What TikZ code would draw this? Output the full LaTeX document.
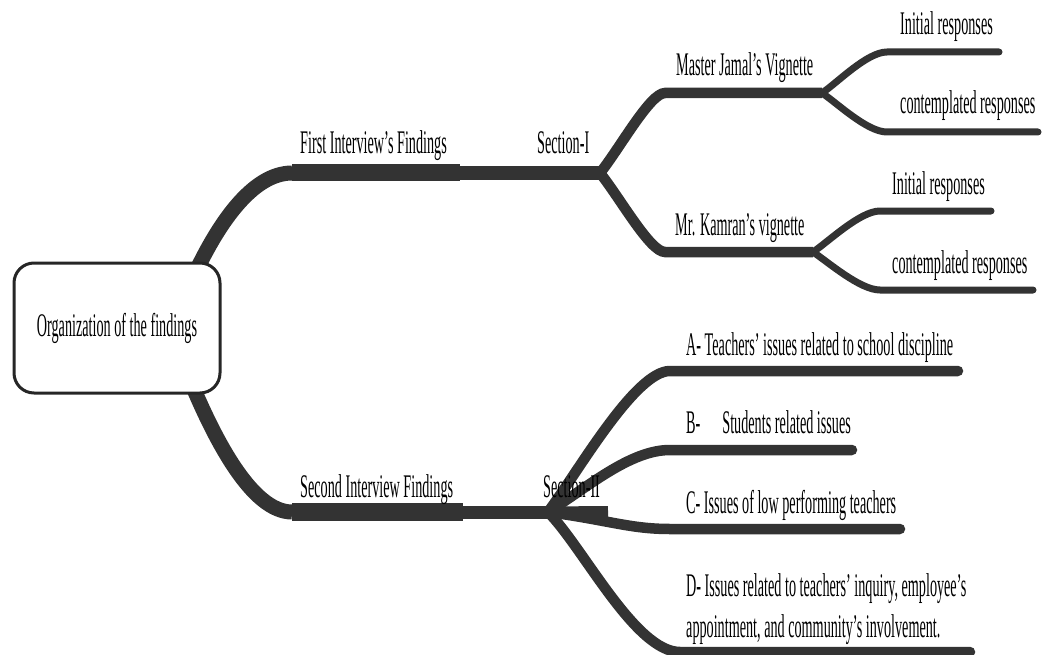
\documentclass[tikz,border=0pt]{standalone}
\usepackage{fontspec}
\newfontfamily\condfont[FakeStretch=0.43]{Liberation Serif}
\definecolor{branch}{HTML}{333333}

\begin{document}
\begin{tikzpicture}[x=1pt,y=-1pt,
  lbl/.style={anchor=base west,inner sep=0pt,font=\condfont\fontsize{33pt}{38pt}\selectfont},
  rootbox/.style={draw=black!85,line width=3pt,rounded corners=20pt,fill=white,minimum width=206pt,minimum height=130pt,inner sep=0pt,font=\condfont\fontsize{33pt}{38pt}\selectfont},
  limb/.style={draw=branch,line width=14pt},
  trunk/.style={draw=branch,line width=17pt},
  twig/.style={draw=branch,line width=10.5pt,line cap=round},
  leaf/.style={draw=branch,line width=7pt,line cap=round}]
  \useasboundingbox (0,0) rectangle (1043,655);
  % hub and forks
  \coordinate (hubU) at (192,280);
  \coordinate (hubD) at (190,380);
  \coordinate (fiS) at (292,173);
  \coordinate (fiE) at (460,173);
  \coordinate (s1) at (600,173);
  \coordinate (siS) at (292,512);
  \coordinate (siE) at (463,512);
  \coordinate (s2) at (548,512);
  \coordinate (s2x) at (608,511.5);
  % section I branches
  \coordinate (mjS) at (665,93);   \coordinate (mjE) at (822,93);
  \coordinate (mkS) at (665,252);  \coordinate (mkE) at (813,252);
  \coordinate (ir1S) at (887,52);  \coordinate (ir1E) at (999,52);
  \coordinate (cr1S) at (887,132); \coordinate (cr1E) at (1038,132);
  \coordinate (ir2S) at (880,211); \coordinate (ir2E) at (991,211);
  \coordinate (cr2S) at (880,290); \coordinate (cr2E) at (1033,290);
  % section II branches
  \coordinate (aS) at (670,371);   \coordinate (aE) at (958,371);
  \coordinate (bS) at (670,450);   \coordinate (bE) at (852,450);
  \coordinate (cS) at (670,529);   \coordinate (cE) at (900,529);
  \coordinate (dS) at (680,652);   \coordinate (dE) at (970,652);

  % first interview
  \draw[limb,line width=15pt] (hubU) .. controls +(25,-55) and +(-40,0) .. (fiS);
  \draw[trunk] (fiS) -- (fiE);
  \draw[limb,line width=14.5pt] (fiE) -- (s1);
  \draw[twig,line cap=butt] (s1) .. controls +(20,-25) and +(-15,0) .. (mjS) -- (mjE);
  \draw[twig,line cap=butt] (s1) .. controls +(20,25) and +(-15,0) .. (mkS) -- (mkE);
  \draw[leaf] (mjE) .. controls +(15,-10) and +(-20,0) .. (ir1S) -- (ir1E);
  \draw[leaf] (mjE) .. controls +(15,10) and +(-20,0) .. (cr1S) -- (cr1E);
  \draw[leaf] (mkE) .. controls +(15,-10) and +(-20,0) .. (ir2S) -- (ir2E);
  \draw[leaf] (mkE) .. controls +(15,10) and +(-20,0) .. (cr2S) -- (cr2E);

  % second interview
  \draw[limb,line width=15pt] (hubD) .. controls +(25,60) and +(-40,0) .. (siS);
  \draw[trunk,line width=18pt] (siS) -- (siE);
  \draw[limb,line width=13pt] (siE) -- (s2);
  \draw[draw=branch,line width=11pt] (s2) -- (s2x);
  \draw[twig] (s2) .. controls +(30,-40) and +(-35,0) .. (aS) -- (aE);
  \draw[twig] (s2) .. controls +(40,-25) and +(-40,0) .. (bS) -- (bE);
  \draw[twig] (s2) .. controls +(60,8) and +(-40,0) .. (cS) -- (cE);
  \draw[twig] (s2) .. controls +(35,35) and +(-45,0) .. (dS) -- (dE);

  % labels
  \node[rootbox] (root) at (117,328) {Organization of the findings};
  \node[lbl] (fif) at (300,154) {First Interview’s Findings};
  \node[lbl] (sec1) at (537,154) {Section-I};
  \node[lbl] (mj) at (676,76) {Master Jamal’s Vignette};
  \node[lbl] (mk) at (675,235) {Mr. Kamran’s vignette};
  \node[lbl] (ir1) at (900,35) {Initial responses};
  \node[lbl] (cr1) at (900,114) {contemplated responses};
  \node[lbl] (ir2) at (892,194) {Initial responses};
  \node[lbl] (cr2) at (892,273) {contemplated responses};
  \node[lbl] (sif) at (300,497) {Second Interview Findings};
  \node[lbl] (sec2) at (543,497) {Section-II};
  \node[lbl] (ta) at (686,355) {A- Teachers’ issues related to school discipline};
  \node[lbl] (tb) at (686,433) {B-\hspace{22pt}Students related issues};
  \node[lbl] (tc) at (686,513) {C- Issues of low performing teachers};
  \node[lbl] (td1) at (686,596) {D- Issues related to teachers’ inquiry, employee’s};
  \node[lbl] (td2) at (686,637) {appointment, and community’s involvement.};
\end{tikzpicture}
\end{document}
